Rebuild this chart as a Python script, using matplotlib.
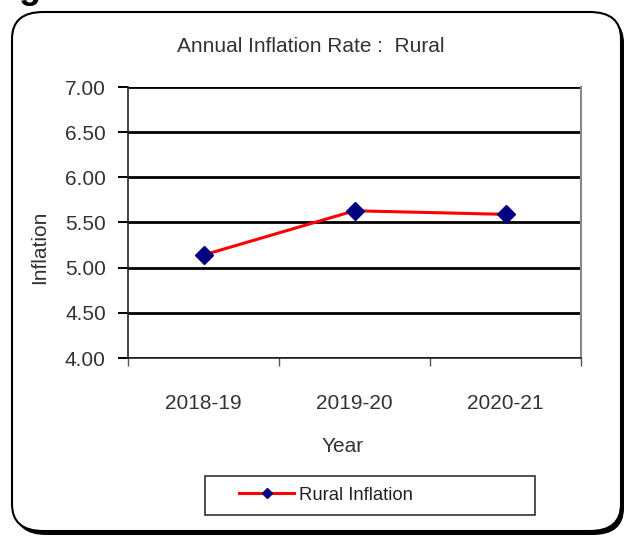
import numpy as np
import matplotlib
matplotlib.use("Agg")
import matplotlib.pyplot as plt
from matplotlib.patches import FancyBboxPatch, Rectangle
from matplotlib.lines import Line2D

plt.rcParams['font.family'] = ['Liberation Sans', 'DejaVu Sans']

# data
years = ["2018-19", "2019-20", "2020-21"]
rural_inflation = [5.14, 5.63, 5.59]
y_ticks = [4.0, 4.5, 5.0, 5.5, 6.0, 6.5, 7.0]

W, H = 624, 536
fig = plt.figure(figsize=(W / 100, H / 100), dpi=100)
txt = "#333333"

# outer rounded frame with a shadow at the lower right
shadow = FancyBboxPatch((15 / W, 1 - 535 / H), 609 / W, 519 / H,
                        boxstyle="round,pad=0,rounding_size=0.05",
                        transform=fig.transFigure, facecolor="black", edgecolor="none", zorder=0)
frame = FancyBboxPatch((12 / W, 1 - 531 / H), 609 / W, 519 / H,
                       boxstyle="round,pad=0,rounding_size=0.05",
                       transform=fig.transFigure, facecolor="white", edgecolor="black",
                       linewidth=1.5, zorder=1)
fig.patches.extend([shadow, frame])

# cropped heading fragment at the top-left corner
fig.text(19 / W, 1.004, "g", fontsize=26, fontweight="bold", va="baseline", ha="left")

ax = fig.add_axes([128 / W, 1 - 358 / H, 453 / W, 271 / H])
ax.set_zorder(2)
x = np.arange(len(years))
ax.plot(x, rural_inflation, color="#ff0000", linewidth=2.2, marker="D", markersize=9,
        markerfacecolor="#000080", markeredgecolor="#000080", zorder=4, clip_on=False)

ax.set_xlim(-0.5, len(years) - 0.5)
ax.set_ylim(4.0, 7.0)
ax.set_yticks(y_ticks)
ax.set_yticklabels([f"{v:.2f}" for v in y_ticks])
ax.set_xticks(np.arange(-0.5, len(years)))
ax.set_xticklabels([])
ax.set_xticks(x, minor=True)
ax.set_xticklabels(years, minor=True)
ax.tick_params(axis="x", which="minor", length=0, pad=26, labelsize=15, labelcolor=txt)
ax.tick_params(axis="x", which="major", length=6, width=1, color="#555555", direction="out")
ax.tick_params(axis="y", length=7, width=1.4, color="black", direction="out", pad=9,
               labelsize=15, labelcolor=txt)

ax.grid(axis="y", color="black", linewidth=2)
ax.set_axisbelow(True)
for side in ["left", "bottom"]:
    ax.spines[side].set_color("#222222")
    ax.spines[side].set_linewidth(1.2)
ax.spines["top"].set_visible(False)
ax.spines["right"].set_color("#888888")
ax.spines["right"].set_linewidth(1.5)

fig.text(311 / W, 1 - 47 / H, "Annual Inflation Rate :  Rural", fontsize=15, color=txt,
         ha="center", va="center")
fig.text(343 / W, 1 - 447 / H, "Year", fontsize=15, color=txt, ha="center", va="center")
fig.text(40 / W, 1 - 247 / H, "Inflation", fontsize=15, color=txt, ha="center", va="center",
         rotation=90)

# legend: plain box plus entry
fig.patches.append(Rectangle((205 / W, 1 - 515 / H), 330 / W, 39 / H, transform=fig.transFigure,
                             facecolor="white", edgecolor="#333333", linewidth=1.2, zorder=3))
handle = Line2D([], [], color="#ff0000", linewidth=2.2, marker="D", markersize=5,
                markerfacecolor="#000080", markeredgecolor="#000080")
leg = fig.legend([handle], ["Rural Inflation"], loc="center", bbox_to_anchor=(326 / W, 1 - 495 / H),
                 frameon=False, fontsize=13.3, handlelength=3.0, handletextpad=0.25,
                 labelcolor="#222222")
leg.set_zorder(4)

fig.savefig("out.png", dpi=100)
